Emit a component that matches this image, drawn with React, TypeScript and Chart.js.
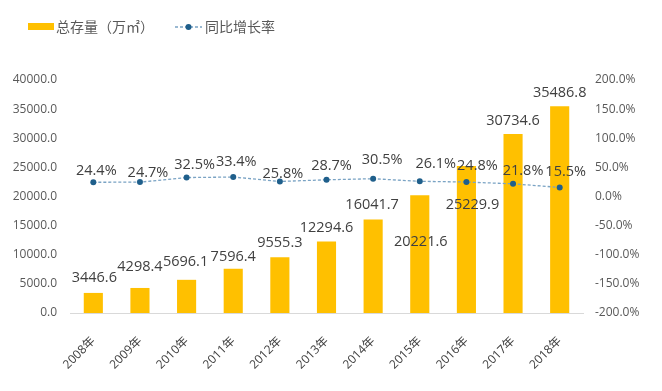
import { useEffect, useRef } from 'react';
import { Chart, registerables } from 'chart.js';

Chart.register(...registerables);

const categories = ['2008年', '2009年', '2010年', '2011年', '2012年', '2013年', '2014年', '2015年', '2016年', '2017年', '2018年'];
const totalStock = [3446.6, 4298.4, 5696.1, 7596.4, 9555.3, 12294.6, 16041.7, 20221.6, 25229.9, 30734.6, 35486.8];
const yoyGrowth = [24.4, 24.7, 32.5, 33.4, 25.8, 28.7, 30.5, 26.1, 24.8, 21.8, 15.5];
const seriesNames = ['总存量（万㎡）', '同比增长率'];

const FONT = '"Open Sans", "Noto Sans CJK SC", sans-serif';
const CJK_FONT = '"Noto Sans CJK SC", "Open Sans", sans-serif';
const BAR_COLOR = '#FFC000';
const LINE_COLOR = '#7aa3c4';
const POINT_COLOR = '#1f5f8b';

// label nudges (px) relative to the mark they annotate
const barLabelNudge = [[1, -15], [0, -21], [-1, -18], [0, -12], [0, -14], [0, -14], [-1, -15], [1, 47], [6, 39], [0, -13], [0, -13]];
const lineLabelNudge = [[3, -11], [8, -9], [8, -13], [3, -15], [3, -8], [5, -14], [9, -19], [16, -17], [11, -16], [10, -13], [6, -16]];

const valueLabels = {
  id: 'valueLabels',
  afterDatasetsDraw(chart: any) {
    const ctx = chart.ctx;
    ctx.save();
    ctx.font = `14.5px ${FONT}`;
    ctx.fillStyle = '#404040';
    ctx.textAlign = 'center';
    ctx.textBaseline = 'middle';
    const barMeta = chart.getDatasetMeta(0);
    barMeta.data.forEach((el: any, i: number) => {
      const [dx, dy] = barLabelNudge[i];
      ctx.fillText(totalStock[i].toFixed(1), el.x + dx, el.y + dy);
    });
    const lineMeta = chart.getDatasetMeta(1);
    lineMeta.data.forEach((el: any, i: number) => {
      const [dx, dy] = lineLabelNudge[i];
      ctx.fillText(yoyGrowth[i].toFixed(1) + '%', el.x + dx, el.y + dy);
    });
    ctx.restore();
  },
};

const customLegend = {
  id: 'customLegend',
  afterDraw(chart: any) {
    const ctx = chart.ctx;
    ctx.save();
    const y = 27;
    ctx.fillStyle = BAR_COLOR;
    ctx.fillRect(28, 23, 26, 7);
    ctx.font = `14px ${CJK_FONT}`;
    ctx.fillStyle = '#595959';
    ctx.textAlign = 'left';
    ctx.textBaseline = 'middle';
    ctx.fillText(seriesNames[0], 56, y);
    ctx.strokeStyle = LINE_COLOR;
    ctx.lineWidth = 1.5;
    ctx.setLineDash([3, 2]);
    ctx.beginPath();
    ctx.moveTo(175, y);
    ctx.lineTo(202, y);
    ctx.stroke();
    ctx.setLineDash([]);
    ctx.fillStyle = POINT_COLOR;
    ctx.beginPath();
    ctx.arc(188.5, y, 3, 0, Math.PI * 2);
    ctx.fill();
    ctx.fillStyle = '#595959';
    ctx.fillText(seriesNames[1], 205, y);
    ctx.restore();
  },
};

export default function App() {
  const ref = useRef<HTMLCanvasElement>(null);
  useEffect(() => {
    document.body.style.margin = '0';
    const chart = new Chart(ref.current as HTMLCanvasElement, {
      type: 'bar',
      data: {
        labels: categories,
        datasets: [
          {
            type: 'bar',
            label: seriesNames[0],
            data: totalStock,
            backgroundColor: BAR_COLOR,
            borderWidth: 0,
            barPercentage: 0.41,
            categoryPercentage: 1,
            yAxisID: 'y',
            order: 2,
          },
          {
            type: 'line',
            label: seriesNames[1],
            data: yoyGrowth,
            borderColor: LINE_COLOR,
            borderWidth: 1.3,
            borderDash: [3, 2],
            pointBackgroundColor: POINT_COLOR,
            pointBorderColor: POINT_COLOR,
            pointRadius: 3,
            pointBorderWidth: 0,
            tension: 0,
            yAxisID: 'y1',
            order: 1,
          } as any,
        ],
      },
      options: {
        responsive: false,
        animation: false,
        devicePixelRatio: 1,
        layout: { padding: { top: 80, left: 0, right: 0, bottom: 0 } },
        plugins: {
          legend: { display: false },
          tooltip: { enabled: false },
          title: { display: false },
        },
        scales: {
          x: {
            offset: true,
            grid: { display: false, drawTicks: false },
            border: { display: true, color: '#d9d9d9', width: 1 },
            ticks: {
              color: '#404040',
              font: { size: 12, family: FONT },
              minRotation: 45,
              maxRotation: 45,
              padding: 21,
            },
            afterFit: (s: any) => { s.height = 78; },
          },
          y: {
            position: 'left',
            min: 0,
            max: 40000,
            grid: { display: false, drawTicks: false },
            border: { display: false },
            ticks: {
              stepSize: 5000,
              color: '#595959',
              font: { size: 12, family: FONT },
              padding: 13,
              callback: (v: any) => Number(v).toFixed(1),
            },
            afterFit: (s: any) => { s.width = 70; },
          },
          y1: {
            position: 'right',
            min: -200,
            max: 200,
            grid: { display: false, drawTicks: false },
            border: { display: false },
            ticks: {
              stepSize: 50,
              color: '#595959',
              font: { size: 12, family: FONT },
              padding: 12,
              callback: (v: any) => Number(v).toFixed(1) + '%',
            },
            afterFit: (s: any) => { s.width = 79; },
          },
        },
      },
      plugins: [valueLabels, customLegend],
    });
    return () => chart.destroy();
  }, []);
  return (
    <div style={{ width: 662, height: 391, background: '#ffffff' }}>
      <canvas ref={ref} width={662} height={391} style={{ display: 'block' }} />
    </div>
  );
}
